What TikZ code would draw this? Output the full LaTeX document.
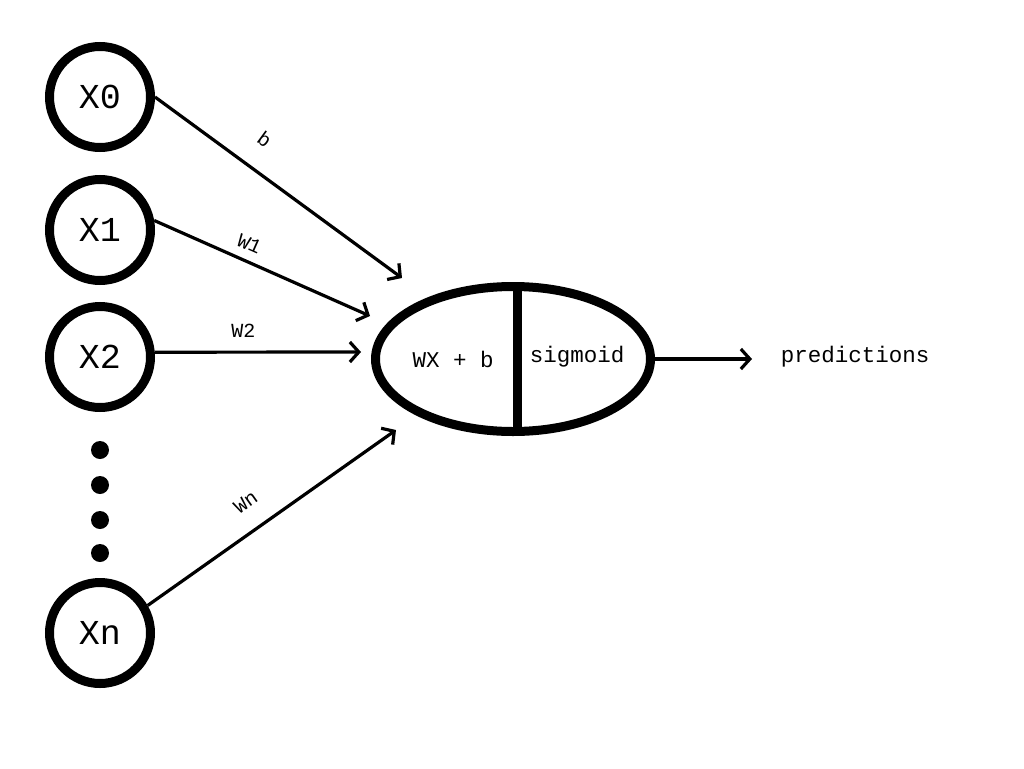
\documentclass[tikz,border=0pt]{standalone}
\usepackage{fontspec}
\setmonofont{Liberation Mono}
\usetikzlibrary{arrows.meta,calc,shapes.geometric}
\begin{document}
\begin{tikzpicture}[x=1pt,y=-1pt,
  inp/.style={circle,draw,line width=9pt,minimum size=101pt,inner sep=0pt,font=\ttfamily\fontsize{35}{35}\selectfont},
  dotn/.style={circle,fill,minimum size=18pt,inner sep=0pt},
  conn/.style={line width=3.2pt,-{Straight Barb[length=9pt,width=20pt,line width=3.2pt]}},
  wlab/.style={font=\ttfamily\fontsize{20}{20}\selectfont,inner sep=0pt,sloped},
  txt/.style={font=\ttfamily\fontsize{22.5}{22.5}\selectfont,inner sep=0pt}]
\useasboundingbox (0,0) rectangle (1024,768);
\node[inp] (X0) at (100,97) {X0};
\node[inp] (X1) at (100,230) {X1};
\node[inp] (X2) at (100,357) {X2};
\node[inp] (Xn) at (100,633) {Xn};
\node[dotn] (d1) at (100,450) {};
\node[dotn] (d2) at (100,485) {};
\node[dotn] (d3) at (100,520) {};
\node[dotn] (d4) at (100,553) {};
\node[draw,ellipse,line width=9pt,minimum width=275pt,minimum height=145pt,inner sep=0pt] (E) at (513,359) {};
\draw[line width=9pt] ($(E.north)+(4,0)$) -- ($(E.south)+(4,0)$);
\node[txt,anchor=base] (lin) at (453,367) {WX + b};
\node[txt,anchor=base] (sig) at (577,362) {sigmoid};
\node[txt,anchor=base] (pred) at (855,362) {predictions};
\coordinate (t0) at (402,278);
\coordinate (t1) at (370,316);
\coordinate (t2) at (361,352);
\coordinate (tn) at (396,430);
\coordinate (to) at ($(E.east)+(97,0)$);
\draw[conn] (X0.east) -- node[wlab,above=22pt,pos=0.37] {b} (t0);
\draw[conn] (X1.10) -- node[wlab,above=9pt,pos=0.41] {W1} (t1);
\draw[conn] (X2.5) -- node[wlab,above=13pt,pos=0.43] {W2} (t2);
\draw[conn] (Xn.30) -- node[wlab,above=20pt,pos=0.46] {Wn} (tn);
\draw[conn] (E.east) -- (to);
\end{tikzpicture}
\end{document}
